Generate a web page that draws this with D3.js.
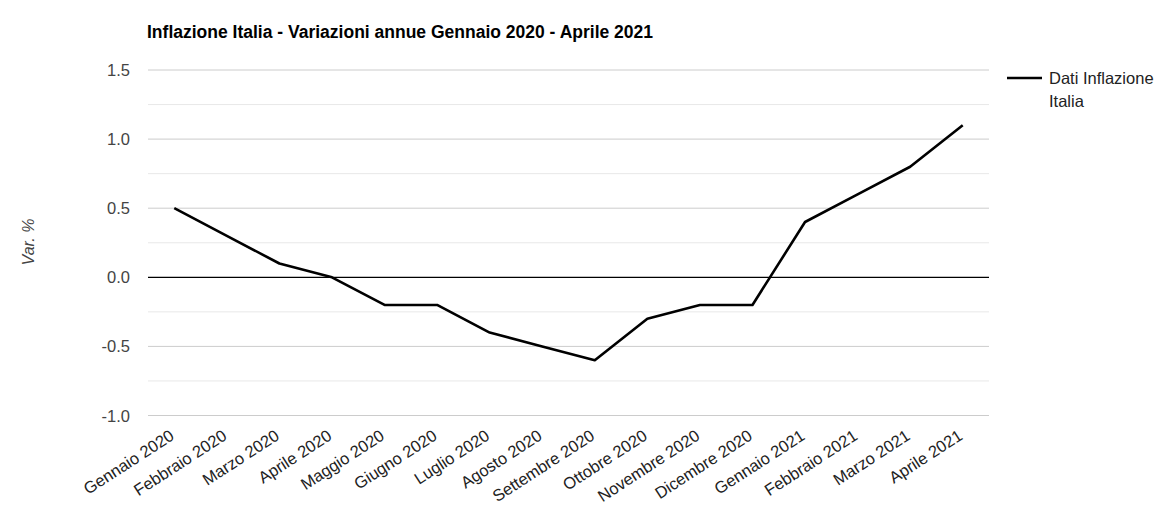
<!DOCTYPE html>
<html><head><meta charset="utf-8">
<script src="https://cdn.jsdelivr.net/npm/d3@7"></script>
<style>body{margin:0;background:#fff;font-family:Arial,"Liberation Sans",sans-serif;}</style>
</head><body><svg id="c" width="1165" height="525"></svg>
<script>
const categories = ["Gennaio 2020","Febbraio 2020","Marzo 2020","Aprile 2020","Maggio 2020","Giugno 2020","Luglio 2020","Agosto 2020","Settembre 2020","Ottobre 2020","Novembre 2020","Dicembre 2020","Gennaio 2021","Febbraio 2021","Marzo 2021","Aprile 2021"];
const values = [0.5,0.3,0.1,0.0,-0.2,-0.2,-0.4,-0.5,-0.6,-0.3,-0.2,-0.2,0.4,0.6,0.8,1.1];
const majorTicks = [-1.0,-0.5,0.0,0.5,1.0,1.5];
const minorTicks = [-0.75,-0.25,0.25,0.75,1.25];
const seriesName = ["Dati Inflazione","Italia"];
const title = "Inflazione Italia - Variazioni annue Gennaio 2020 - Aprile 2021";
const yTitle = "Var. %";

const svg = d3.select("#c");
const L = 148, R = 989, T = 70, B = 415.5;
const x = d3.scalePoint().domain(categories).range([L, R]).padding(0.5);
const y = d3.scaleLinear().domain([-1, 1.5]).range([B, T]);

svg.append("text").attr("x",147).attr("y",38).attr("font-size",17.5).attr("font-weight","bold").attr("fill","#000").text(title);

svg.append("g").selectAll("line").data(minorTicks).join("line")
  .attr("x1",L).attr("x2",R).attr("y1",d=>y(d)).attr("y2",d=>y(d)).attr("stroke","#e8e8e8").attr("stroke-width",1);
svg.append("g").selectAll("line").data(majorTicks.filter(d=>d!==0)).join("line")
  .attr("x1",L).attr("x2",R).attr("y1",d=>y(d)).attr("y2",d=>y(d)).attr("stroke","#cccccc").attr("stroke-width",1);

svg.append("g").selectAll("text").data(majorTicks).join("text")
  .attr("x",130).attr("y",d=>y(d)+6).attr("text-anchor","end").attr("font-size",16.5).attr("fill","#444")
  .text(d=>d.toFixed(1));

svg.append("text").attr("transform","translate(34,242) rotate(-90)").attr("text-anchor","middle")
  .attr("font-size",16).attr("font-style","italic").attr("fill","#444").text(yTitle);

svg.append("line").attr("x1",L).attr("x2",R).attr("y1",y(0)).attr("y2",y(0)).attr("stroke","#000").attr("stroke-width",1.2);

svg.append("g").selectAll("text").data(categories).join("text")
  .attr("text-anchor","end").attr("font-size",16.5).attr("fill","#222")
  .attr("transform",d=>`translate(${x(d)+1},${B+23}) rotate(-33)`).text(d=>d);

svg.append("path").datum(values).attr("fill","none").attr("stroke","#000").attr("stroke-width",2.6)
  .attr("stroke-linejoin","round")
  .attr("d", d3.line().x((d,i)=>x(categories[i])).y(d=>y(d)));

svg.append("line").attr("x1",1007).attr("x2",1042).attr("y1",78).attr("y2",78).attr("stroke","#000").attr("stroke-width",2.6);
svg.append("g").selectAll("text").data(seriesName).join("text")
  .attr("x",1049).attr("y",(d,i)=>84+i*22.5).attr("font-size",16.5).attr("fill","#222").text(d=>d);
</script></body></html>
